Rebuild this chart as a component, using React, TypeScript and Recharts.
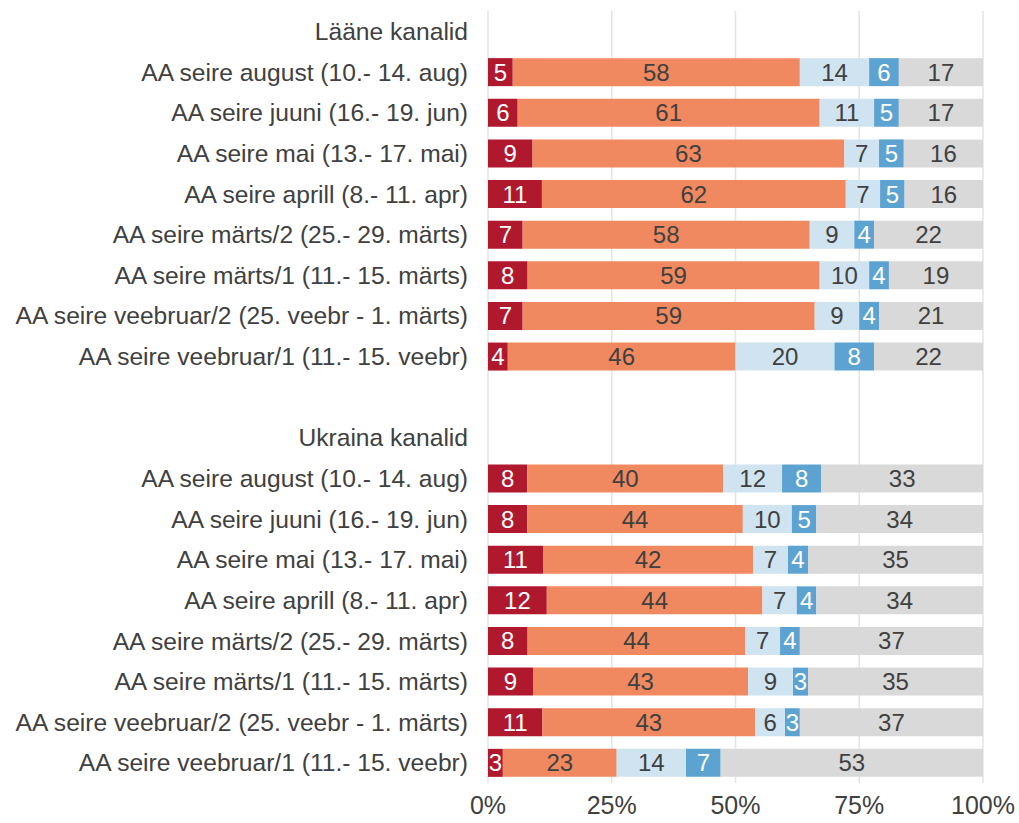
import { BarChart, Bar, XAxis, YAxis, CartesianGrid, LabelList } from "recharts";

const categories = [
  "Lääne kanalid",
  "AA seire august (10.- 14. aug)",
  "AA seire juuni (16.- 19. jun)",
  "AA seire mai (13.- 17. mai)",
  "AA seire aprill (8.- 11. apr)",
  "AA seire märts/2 (25.- 29. märts)",
  "AA seire märts/1 (11.- 15. märts)",
  "AA seire veebruar/2 (25. veebr - 1. märts)",
  "AA seire veebruar/1 (11.- 15. veebr)",
  "",
  "Ukraina kanalid",
  "AA seire august (10.- 14. aug)",
  "AA seire juuni (16.- 19. jun)",
  "AA seire mai (13.- 17. mai)",
  "AA seire aprill (8.- 11. apr)",
  "AA seire märts/2 (25.- 29. märts)",
  "AA seire märts/1 (11.- 15. märts)",
  "AA seire veebruar/2 (25. veebr - 1. märts)",
  "AA seire veebruar/1 (11.- 15. veebr)",
];

// null = header / spacer row
const s1 = [null, 5, 6, 9, 11, 7, 8, 7, 4, null, null, 8, 8, 11, 12, 8, 9, 11, 3];
const s2 = [null, 58, 61, 63, 62, 58, 59, 59, 46, null, null, 40, 44, 42, 44, 44, 43, 43, 23];
const s3 = [null, 14, 11, 7, 7, 9, 10, 9, 20, null, null, 12, 10, 7, 7, 7, 9, 6, 14];
const s4 = [null, 6, 5, 5, 5, 4, 4, 4, 8, null, null, 8, 5, 4, 4, 4, 3, 3, 7];
const s5 = [null, 17, 17, 16, 16, 22, 19, 21, 22, null, null, 33, 34, 35, 34, 37, 35, 37, 53];

const xTicks = [0, 0.25, 0.5, 0.75, 1];

const data = categories.map((name, i) => ({
  name,
  s1: s1[i],
  s2: s2[i],
  s3: s3[i],
  s4: s4[i],
  s5: s5[i],
}));

const textColor = "#404040";
const font = "'Liberation Sans', Arial, sans-serif";

const series = [
  { key: "s1", fill: "#B0182E", label: "#ffffff" },
  { key: "s2", fill: "#F0895F", label: textColor },
  { key: "s3", fill: "#D0E3F0", label: textColor },
  { key: "s4", fill: "#5DA3D1", label: "#ffffff" },
  { key: "s5", fill: "#D9D9D9", label: textColor },
];

function makeLabel(color: string) {
  return (props: any) => {
    const { x, y, width, height, value } = props;
    if (value == null || Array.isArray(value) || !isFinite(x) || !isFinite(width) || width <= 0) return null;
    return (
      <text
        x={Number(x) + Number(width) / 2}
        y={Number(y) + Number(height) / 2}
        textAnchor="middle"
        dominantBaseline="central"
        fill={color}
        fontSize={24}
        fontFamily={font}
      >
        {value}
      </text>
    );
  };
}

export default function App() {
  return (
    <div style={{ position: "absolute", left: 0, top: 0, fontFamily: font }}>
      <BarChart
        width={1019}
        height={823}
        data={data}
        layout="vertical"
        stackOffset="expand"
        barCategoryGap="16%"
        margin={{ top: 11, right: 36, bottom: 0, left: 0 }}
      >
        <CartesianGrid horizontal={false} stroke="#E4E4E4" strokeWidth={1.5} />
        <XAxis
          type="number"
          domain={[0, 1]}
          ticks={xTicks}
          tickFormatter={(v: number) => `${Math.round(v * 100)}%`}
          axisLine={false}
          tickLine={false}
          tickSize={0}
          tickMargin={13}
          height={40}
          tick={{ fill: textColor, fontSize: 25, fontFamily: font }}
        />
        <YAxis
          type="category"
          dataKey="name"
          width={488}
          interval={0}
          axisLine={false}
          tickLine={false}
          tickSize={0}
          tickMargin={20}
          tick={{ fill: textColor, fontSize: 24.6, fontFamily: font }}
        />
        {series.map((s) => (
          <Bar key={s.key} dataKey={s.key} stackId="a" fill={s.fill} isAnimationActive={false}>
            <LabelList dataKey={s.key} content={makeLabel(s.label)} />
          </Bar>
        ))}
      </BarChart>
    </div>
  );
}
